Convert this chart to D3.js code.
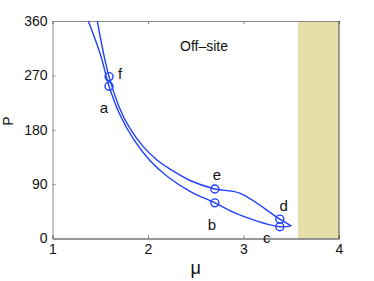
<!DOCTYPE html>
<html>
<head>
<meta charset="utf-8">
<script src="https://cdn.jsdelivr.net/npm/d3@7"></script>
<style>
  body { margin: 0; background: #fff; }
  text { font-family: "Liberation Sans", Arial, sans-serif; fill: #111; }
</style>
</head>
<body>
<div id="chart"></div>
<script>
// upper branch (through f, e, d) and lower branch (through a, b, c)
const upperMu = [1.469, 1.539, 1.592, 1.70, 1.80, 1.95, 2.10, 2.25, 2.44, 2.70, 2.96, 3.38, 3.50];
const upperP  = [360,   303,   268,   217,  185,  152,  129,  113,  96,   82,   75,   32,   21];
const lowerMu = [1.375, 1.505, 1.592, 1.70, 1.85, 2.02, 2.20, 2.44, 2.70, 2.96, 3.38, 3.50];
const lowerP  = [360,   303,   252,   207,  164,  129,  103,  78,   59,   39,   19.5, 21];

const markNames = ["a", "b", "c", "d", "e", "f"];
const markMu    = [1.592, 2.70, 3.38, 3.38, 2.70, 1.592];
const markP     = [252,   59,   19.5, 32,   82,   268];

const xTicks = [1, 2, 3, 4];
const yTicks = [0, 90, 180, 270, 360];
const chaosStart = 3.57;

const width = 374, height = 281;
const margin = {left: 52.5, right: 35, top: 21, bottom: 42.5};

const svg = d3.select('#chart').append('svg')
    .attr('width', width)
    .attr('height', height);

const x = d3.scaleLinear().domain([1, 4]).range([margin.left, width - margin.right]);
const y = d3.scaleLinear().domain([0, 360]).range([height - margin.bottom, margin.top]);

svg.append('clipPath').attr('id', 'clip')
  .append('rect')
    .attr('x', x(1)).attr('y', y(360))
    .attr('width', x(4) - x(1)).attr('height', y(0) - y(360));

// chaotic region
svg.append('rect')
    .attr('x', x(chaosStart))
    .attr('y', y(360))
    .attr('width', x(4) - x(chaosStart))
    .attr('height', y(0) - y(360))
    .attr('fill', '#e5e0a9');

// axes (ticks inward)
const tl = 3;
svg.append('g')
    .attr('transform', 'translate(0,' + y(0) + ')')
    .call(d3.axisBottom(x).tickValues(xTicks).tickSize(-tl).tickPadding(6).tickFormat(d3.format('d')))
    .call(g => g.select('.domain').attr('stroke', '#333'))
    .call(g => g.selectAll('.tick line').attr('stroke', '#777'))
    .call(g => g.selectAll('text').attr('font-size', 14).attr('font-family', 'Liberation Sans, Arial, sans-serif').attr('fill', '#111'));

svg.append('g')
    .attr('transform', 'translate(0,' + y(360) + ')')
    .call(d3.axisTop(x).tickValues(xTicks).tickSize(-tl).tickFormat(''))
    .call(g => g.select('.domain').attr('stroke', '#888'))
    .call(g => g.selectAll('.tick line').attr('stroke', '#888'));

svg.append('g')
    .attr('transform', 'translate(' + x(1) + ',0)')
    .call(d3.axisLeft(y).tickValues(yTicks).tickSize(-tl).tickPadding(5).tickFormat(d3.format('d')))
    .call(g => g.select('.domain').attr('stroke', '#888'))
    .call(g => g.selectAll('.tick line').attr('stroke', '#888'))
    .call(g => g.selectAll('text').attr('font-size', 14).attr('font-family', 'Liberation Sans, Arial, sans-serif').attr('fill', '#111'));

svg.append('line')
    .attr('x1', x(4)).attr('x2', x(4))
    .attr('y1', y(0)).attr('y2', y(360))
    .attr('stroke', '#444');

// curves
const line = d3.line()
    .x(d => x(d[0]))
    .y(d => y(d[1]))
    .curve(d3.curveCatmullRom.alpha(0.5));

const upper = upperMu.map((m, i) => [m, upperP[i]]);
const lower = lowerMu.map((m, i) => [m, lowerP[i]]);
const blue = '#2040ff';

svg.append('g').attr('clip-path', 'url(#clip)')
  .selectAll('path')
  .data([upper, lower])
  .enter()
  .append('path')
    .attr('d', line)
    .attr('fill', 'none')
    .attr('stroke', blue)
    .attr('stroke-width', 1.4);

// markers
svg.selectAll('.mark')
    .data(markNames)
    .enter()
    .append('circle')
    .attr('class', 'mark')
    .attr('cx', (d, i) => x(markMu[i]))
    .attr('cy', (d, i) => y(markP[i]))
    .attr('r', 4)
    .attr('fill', 'none')
    .attr('stroke', blue)
    .attr('stroke-width', 1.4);

// marker labels, offsets in pixels
const labelOff = {a: [-5, 21], b: [-3, 22], c: [-13, 11], d: [4, -13], e: [2, -14], f: [11, -3]};
svg.selectAll('.lab')
    .data(markNames)
    .enter()
    .append('text')
    .attr('class', 'lab')
    .attr('x', (d, i) => x(markMu[i]) + labelOff[d][0])
    .attr('y', (d, i) => y(markP[i]) + labelOff[d][1])
    .attr('dy', '0.35em')
    .attr('text-anchor', 'middle')
    .attr('font-size', 15)
    .text(d => d);

svg.append('text')
    .attr('x', 204)
    .attr('y', 46)
    .attr('dy', '0.35em')
    .attr('text-anchor', 'middle')
    .attr('font-size', 14)
    .text('Off–site');

svg.append('text')
    .attr('x', x(2.5))
    .attr('y', 268)
    .attr('dy', '0.35em')
    .attr('text-anchor', 'middle')
    .attr('font-size', 18)
    .text('μ');

svg.append('text')
    .attr('transform', 'translate(8,121) rotate(-90)')
    .attr('dy', '0.35em')
    .attr('text-anchor', 'middle')
    .attr('font-size', 14)
    .text('P');
</script>
</body>
</html>
